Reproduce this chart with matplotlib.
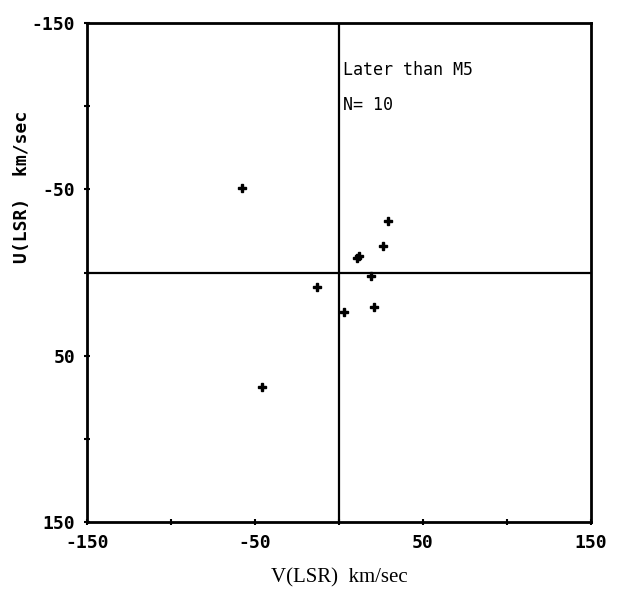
import numpy as np
import matplotlib.pyplot as plt

# V and U velocities (km/sec) of stars later than M5
v_lsr = [-58, 29, 26, 11, 12, 19, -13, 21, 3, -46]
u_lsr = [-51, -31, -16, -9, -10, 2, 9, 21, 24, 69]

ticks = [-150, -100, -50, 0, 50, 100, 150]
tick_labels = ['-150', '', '-50', '', '50', '', '150']

fig = plt.figure(figsize=(6.24, 5.92), dpi=100)
ax = fig.add_axes([0.1394, 0.1182, 0.8077, 0.8429])

ax.axhline(0, color='black', lw=1.6, zorder=1)
ax.axvline(0, color='black', lw=1.6, zorder=1)
ax.plot(v_lsr, u_lsr, linestyle='none', marker='P', markersize=6,
        color='black', zorder=3)

ax.set_xlim(-150, 150)
ax.set_ylim(150, -150)
ax.set_xticks(ticks)
ax.set_yticks(ticks)
ax.set_xticklabels(tick_labels)
ax.set_yticklabels(tick_labels)
for lab in ax.get_xticklabels() + ax.get_yticklabels():
    lab.set_family('DejaVu Sans Mono')
    lab.set_fontweight('bold')
    lab.set_fontsize(13)
ax.tick_params(direction='inout', length=5, width=1.5, pad=6)
for s in ax.spines.values():
    s.set_linewidth(2)

ax.set_xlabel('V(LSR)  km/sec', family='Liberation Serif', fontsize=15,
              labelpad=12)
fig.text(0.035, 0.684, 'U(LSR)  km/sec', rotation=90, ha='center',
         va='center', family='DejaVu Sans Mono', fontweight='bold',
         fontsize=13)

ax.text(2.5, -122, 'Later than M5', family='DejaVu Sans Mono',
        fontsize=12, va='center', ha='left')
ax.text(2.5, -101, 'N= 10', family='DejaVu Sans Mono',
        fontsize=12, va='center', ha='left')

fig.savefig('out.png', dpi=100)
